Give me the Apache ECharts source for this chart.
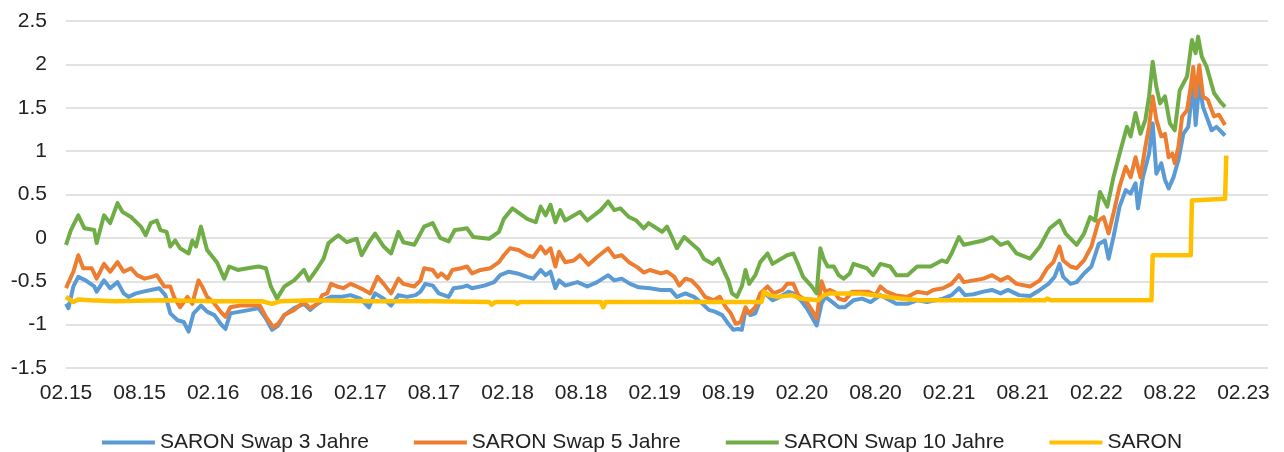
<!DOCTYPE html>
<html>
<head>
<meta charset="utf-8">
<script src="https://cdn.jsdelivr.net/npm/echarts@6/dist/echarts.min.js"></script>
<style>
html,body{margin:0;padding:0;background:#fff;}
#chart{width:1284px;height:452px;}
</style>
</head>
<body>
<div id="chart"></div>
<script>
// x = months since Feb 2015
const xTickLabels = ['02.15','08.15','02.16','08.16','02.17','08.17','02.18','08.18','02.19','08.19','02.20','08.20','02.21','08.21','02.22','08.22','02.23'];
const seriesNames = ['SARON Swap 3 Jahre','SARON Swap 5 Jahre','SARON Swap 10 Jahre','SARON'];

const swap3 = [[0.0,-0.76],[0.2,-0.81],[0.6,-0.56],[1.0,-0.45],[1.6,-0.49],[2.3,-0.56],[2.5,-0.62],[3.1,-0.49],[3.6,-0.58],[4.2,-0.51],[4.7,-0.64],[5.1,-0.68],[5.7,-0.64],[6.3,-0.62],[7.6,-0.58],[8.1,-0.66],[8.5,-0.87],[9.1,-0.95],[9.6,-0.97],[10.0,-1.08],[10.4,-0.87],[11.0,-0.78],[11.5,-0.85],[12.1,-0.89],[12.6,-0.99],[13.0,-1.05],[13.4,-0.87],[14.2,-0.85],[15.0,-0.83],[15.7,-0.81],[16.3,-0.93],[16.8,-1.06],[17.3,-1.01],[17.8,-0.89],[18.6,-0.81],[19.4,-0.76],[19.9,-0.83],[20.5,-0.76],[21.0,-0.72],[21.6,-0.68],[22.4,-0.68],[23.2,-0.66],[24.0,-0.70],[24.7,-0.80],[25.2,-0.64],[25.9,-0.70],[26.5,-0.78],[27.1,-0.66],[27.8,-0.68],[28.5,-0.66],[28.9,-0.62],[29.3,-0.53],[29.9,-0.55],[30.4,-0.64],[31.2,-0.68],[31.6,-0.58],[32.2,-0.57],[32.7,-0.55],[33.1,-0.58],[34.1,-0.55],[34.9,-0.51],[35.4,-0.43],[36.1,-0.39],[36.8,-0.41],[37.6,-0.45],[38.1,-0.47],[38.7,-0.37],[39.1,-0.43],[39.5,-0.39],[39.9,-0.58],[40.2,-0.49],[40.7,-0.55],[41.7,-0.51],[42.5,-0.56],[43.3,-0.51],[44.2,-0.43],[44.7,-0.49],[45.3,-0.47],[46.0,-0.53],[46.7,-0.57],[47.6,-0.58],[48.5,-0.60],[49.3,-0.60],[49.8,-0.68],[50.5,-0.64],[51.2,-0.68],[51.9,-0.76],[52.4,-0.83],[52.9,-0.85],[53.5,-0.89],[54.0,-0.99],[54.4,-1.06],[54.8,-1.05],[55.1,-1.06],[55.4,-0.83],[55.8,-0.89],[56.2,-0.87],[56.6,-0.72],[57.0,-0.64],[57.6,-0.72],[58.2,-0.68],[58.9,-0.62],[59.3,-0.64],[59.9,-0.72],[60.4,-0.81],[60.8,-0.91],[61.2,-1.01],[61.6,-0.76],[61.9,-0.68],[62.3,-0.72],[63.0,-0.80],[63.5,-0.80],[64.2,-0.72],[64.9,-0.70],[65.6,-0.74],[66.4,-0.66],[66.9,-0.70],[67.7,-0.76],[68.6,-0.76],[69.4,-0.72],[70.2,-0.74],[70.9,-0.72],[71.5,-0.70],[72.2,-0.66],[72.8,-0.58],[73.3,-0.66],[74.0,-0.65],[74.8,-0.62],[75.5,-0.60],[76.2,-0.64],[76.8,-0.60],[77.7,-0.66],[78.6,-0.67],[79.4,-0.60],[80.1,-0.53],[80.6,-0.45],[81.0,-0.30],[81.3,-0.45],[81.9,-0.53],[82.4,-0.51],[83.0,-0.41],[83.6,-0.33],[84.2,-0.07],[84.7,-0.03],[85.0,-0.24],[85.4,0.01],[85.9,0.36],[86.4,0.55],[86.8,0.51],[87.2,0.63],[87.4,0.34],[87.8,0.70],[88.3,0.97],[88.6,1.32],[88.9,0.74],[89.3,0.86],[89.6,0.67],[89.9,0.57],[90.3,0.70],[90.7,0.90],[91.1,1.20],[91.5,1.28],[91.9,1.78],[92.1,1.30],[92.4,1.78],[92.7,1.51],[93.4,1.24],[93.8,1.28],[94.5,1.18]];

const swap5 = [[0.0,-0.58],[0.6,-0.39],[1.0,-0.20],[1.4,-0.35],[2.1,-0.35],[2.5,-0.47],[3.1,-0.30],[3.6,-0.39],[4.2,-0.28],[4.7,-0.39],[5.3,-0.35],[5.8,-0.43],[6.4,-0.47],[7.0,-0.45],[7.4,-0.43],[8.0,-0.56],[8.5,-0.56],[8.8,-0.68],[9.3,-0.80],[9.9,-0.68],[10.3,-0.76],[10.8,-0.49],[11.1,-0.56],[11.5,-0.68],[12.0,-0.74],[12.6,-0.85],[13.0,-0.91],[13.4,-0.80],[14.2,-0.78],[15.0,-0.78],[15.8,-0.78],[16.3,-0.91],[16.9,-1.03],[17.3,-0.99],[17.8,-0.89],[18.6,-0.83],[19.4,-0.74],[19.9,-0.81],[20.5,-0.76],[20.9,-0.66],[21.3,-0.64],[21.6,-0.53],[22.1,-0.56],[22.6,-0.58],[23.2,-0.53],[23.7,-0.56],[24.3,-0.60],[24.8,-0.64],[25.4,-0.45],[25.9,-0.53],[26.5,-0.64],[27.1,-0.47],[27.5,-0.53],[28.4,-0.56],[28.9,-0.49],[29.2,-0.35],[29.9,-0.37],[30.3,-0.45],[30.6,-0.41],[31.1,-0.47],[31.5,-0.37],[32.2,-0.35],[32.7,-0.33],[33.1,-0.41],[33.8,-0.37],[34.6,-0.35],[35.3,-0.28],[35.7,-0.20],[36.2,-0.12],[36.9,-0.14],[37.6,-0.20],[38.1,-0.22],[38.7,-0.10],[39.1,-0.18],[39.5,-0.12],[39.9,-0.33],[40.2,-0.16],[40.7,-0.28],[41.4,-0.26],[41.9,-0.20],[42.6,-0.31],[43.3,-0.22],[44.2,-0.12],[44.7,-0.22],[45.3,-0.20],[45.9,-0.28],[46.6,-0.34],[47.1,-0.40],[47.6,-0.37],[48.5,-0.41],[49.0,-0.39],[49.6,-0.45],[50.0,-0.55],[50.5,-0.47],[51.0,-0.49],[51.6,-0.58],[52.1,-0.68],[52.8,-0.72],[53.3,-0.68],[53.8,-0.80],[54.2,-0.87],[54.6,-0.99],[55.0,-0.97],[55.4,-0.80],[55.7,-0.87],[56.2,-0.80],[56.6,-0.64],[57.2,-0.56],[57.7,-0.64],[58.4,-0.60],[58.8,-0.53],[59.3,-0.53],[59.7,-0.66],[60.3,-0.72],[60.8,-0.83],[61.2,-0.93],[61.6,-0.50],[61.9,-0.62],[62.3,-0.60],[62.7,-0.63],[63.0,-0.70],[63.5,-0.72],[64.1,-0.62],[64.8,-0.62],[65.4,-0.62],[66.0,-0.66],[66.4,-0.56],[66.9,-0.62],[67.6,-0.66],[68.6,-0.68],[69.4,-0.62],[70.2,-0.64],[70.7,-0.60],[71.5,-0.58],[72.2,-0.53],[72.8,-0.43],[73.2,-0.51],[74.0,-0.49],[74.8,-0.47],[75.5,-0.43],[76.2,-0.49],[76.8,-0.45],[77.5,-0.53],[78.6,-0.56],[79.4,-0.49],[80.0,-0.35],[80.5,-0.28],[81.0,-0.10],[81.3,-0.26],[81.9,-0.33],[82.4,-0.35],[83.0,-0.26],[83.6,-0.10],[84.2,0.20],[84.6,0.24],[85.0,0.05],[85.4,0.28],[85.9,0.59],[86.4,0.82],[86.8,0.70],[87.2,0.93],[87.6,0.70],[88.0,1.05],[88.3,1.28],[88.6,1.63],[88.9,1.36],[89.3,1.17],[89.6,1.20],[89.9,0.93],[90.2,0.97],[90.4,0.86],[90.7,1.05],[91.0,1.40],[91.4,1.47],[91.7,1.74],[91.9,1.97],[92.1,1.63],[92.4,1.99],[92.7,1.63],[93.1,1.59],[93.6,1.40],[94.0,1.42],[94.5,1.30]];

const swap10 = [[0.0,-0.08],[0.4,0.09],[1.0,0.26],[1.5,0.11],[2.3,0.09],[2.5,-0.06],[3.1,0.26],[3.6,0.17],[4.2,0.40],[4.6,0.30],[5.3,0.24],[6.1,0.13],[6.5,0.03],[6.9,0.17],[7.4,0.20],[7.7,0.09],[8.2,0.07],[8.5,-0.10],[8.9,-0.03],[9.3,-0.12],[10.0,-0.18],[10.3,-0.03],[10.6,-0.10],[11.0,0.13],[11.5,-0.14],[12.3,-0.28],[12.9,-0.47],[13.3,-0.33],[14.0,-0.37],[14.8,-0.35],[15.7,-0.33],[16.3,-0.35],[16.7,-0.56],[17.2,-0.70],[17.8,-0.56],[18.6,-0.49],[19.4,-0.37],[19.8,-0.49],[20.5,-0.35],[21.0,-0.24],[21.4,-0.06],[22.2,0.03],[22.9,-0.05],[23.7,-0.01],[24.1,-0.20],[24.7,-0.05],[25.2,0.05],[25.9,-0.10],[26.5,-0.18],[27.1,0.07],[27.5,-0.05],[28.4,-0.08],[29.2,0.13],[29.9,0.17],[30.5,0.00],[31.2,-0.04],[31.7,0.09],[32.2,0.10],[32.7,0.11],[33.2,0.01],[34.5,-0.01],[35.3,0.07],[35.7,0.22],[36.4,0.34],[37.0,0.28],[37.6,0.22],[38.3,0.18],[38.7,0.36],[39.1,0.26],[39.5,0.38],[39.9,0.18],[40.3,0.32],[40.7,0.20],[41.9,0.30],[42.5,0.20],[43.6,0.32],[44.2,0.42],[44.7,0.32],[45.2,0.34],[45.9,0.24],[46.5,0.20],[47.1,0.11],[47.5,0.17],[48.6,0.07],[49.0,0.13],[49.4,0.01],[49.8,-0.12],[50.4,0.01],[51.6,-0.14],[52.0,-0.24],[52.7,-0.30],[53.2,-0.24],[53.6,-0.37],[54.0,-0.49],[54.3,-0.64],[54.7,-0.68],[55.1,-0.56],[55.4,-0.37],[55.7,-0.53],[56.2,-0.43],[56.6,-0.28],[57.2,-0.18],[57.6,-0.30],[58.8,-0.20],[59.3,-0.18],[59.7,-0.31],[60.1,-0.45],[60.8,-0.56],[61.2,-0.64],[61.5,-0.12],[61.8,-0.25],[62.1,-0.33],[62.6,-0.33],[63.0,-0.43],[63.4,-0.47],[63.9,-0.41],[64.2,-0.30],[65.3,-0.35],[65.8,-0.43],[66.4,-0.30],[67.2,-0.33],[67.7,-0.43],[68.6,-0.43],[69.4,-0.33],[70.5,-0.33],[71.4,-0.26],[71.8,-0.28],[72.2,-0.18],[72.8,0.01],[73.2,-0.08],[74.8,-0.03],[75.5,0.01],[76.2,-0.08],[76.8,-0.05],[77.5,-0.18],[78.6,-0.24],[79.4,-0.10],[80.2,0.11],[81.0,0.20],[81.5,0.05],[82.4,-0.08],[83.0,0.05],[83.5,0.24],[83.9,0.20],[84.3,0.53],[84.9,0.36],[85.4,0.70],[85.9,0.97],[86.5,1.28],[86.8,1.17],[87.2,1.44],[87.6,1.20],[88.0,1.36],[88.3,1.63],[88.6,2.03],[88.9,1.74],[89.2,1.55],[89.6,1.63],[90.0,1.32],[90.4,1.24],[90.8,1.70],[91.4,1.86],[91.8,2.28],[92.1,2.13],[92.3,2.32],[92.6,2.09],[93.0,1.97],[93.6,1.67],[94.1,1.57],[94.5,1.51]];

const saron = [[0,-0.68],[0.6,-0.74],[1.0,-0.71],[2,-0.72],[4,-0.73],[8,-0.72],[12,-0.73],[16.0,-0.73],[16.8,-0.76],[17.5,-0.73],[20,-0.72],[25,-0.73],[30,-0.73],[34.5,-0.74],[34.7,-0.77],[35,-0.74],[36.6,-0.74],[36.8,-0.76],[37.0,-0.74],[43.6,-0.74],[43.8,-0.80],[44.0,-0.74],[56.7,-0.74],[56.9,-0.62],[57.3,-0.66],[58,-0.68],[59.2,-0.66],[59.9,-0.70],[61.3,-0.72],[61.8,-0.66],[62.3,-0.64],[64.8,-0.64],[66.4,-0.67],[68,-0.70],[69.6,-0.72],[76,-0.72],[79.8,-0.72],[80.0,-0.70],[80.3,-0.72],[88.5,-0.72],[88.6,-0.20],[91.7,-0.20],[91.8,0.43],[94.5,0.45],[94.6,0.95]];

const colors = ['#5B9BD5','#ED7D31','#70AD47','#FFC000'];
const seriesData = [swap3, swap5, swap10, saron];
const FONT = '"Liberation Sans", Arial, sans-serif';

const chart = echarts.init(document.getElementById('chart'), null, {renderer:'canvas'});
chart.setOption({
  animation: false,
  backgroundColor: '#fff',
  color: colors,
  grid: {left: 66, right: 16, top: 21, bottom: 84, containLabel: false},
  legend: {
    data: seriesNames,
    left: 'center',
    top: 427,
    icon: 'rect',
    itemWidth: 53,
    itemHeight: 4,
    itemGap: 45,
    textStyle: {fontFamily: FONT, fontSize: 21, color: '#222'}
  },
  xAxis: {
    type: 'value',
    min: 0,
    max: 98,
    interval: 6,
    axisLine: {show: false},
    axisTick: {show: false},
    splitLine: {show: false},
    axisLabel: {
      margin: 15,
      showMaxLabel: false,
      fontFamily: FONT, fontSize: 21, color: '#222',
      formatter: function (v) {
        const i = Math.round(v / 6);
        return (v % 6 === 0 && i < xTickLabels.length) ? xTickLabels[i] : '';
      }
    }
  },
  yAxis: {
    type: 'value',
    min: -1.5,
    max: 2.5,
    interval: 0.5,
    axisLine: {show: false},
    axisTick: {show: false},
    splitLine: {show: true, lineStyle: {color: '#d9d9d9', width: 1.5}},
    axisLabel: {margin: 19, fontFamily: FONT, fontSize: 21, color: '#222'}
  },
  series: seriesNames.map((name, i) => ({
    name: name,
    type: 'line',
    data: seriesData[i],
    showSymbol: false,
    symbol: 'none',
    lineStyle: {width: i === 3 ? 4.5 : 4, color: colors[i], join: 'round'},
    itemStyle: {color: colors[i]},
    z: 2 + i
  }))
});
</script>
</body>
</html>
